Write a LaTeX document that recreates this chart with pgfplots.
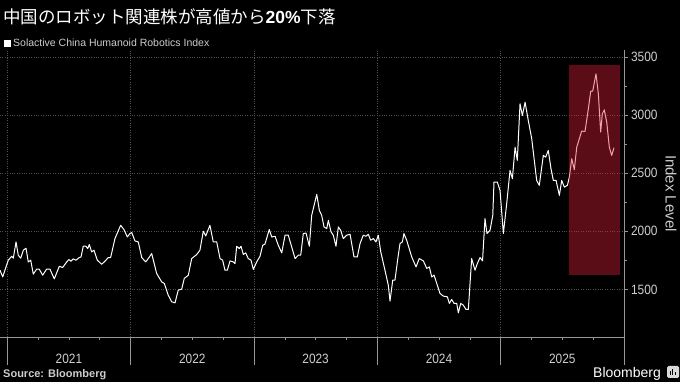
\documentclass[border=0pt]{standalone}
\usepackage{fontspec}
\setmainfont{Liberation Sans}
\newfontfamily\cjk{Noto Sans CJK JP}
\usepackage{pgfplots}
\pgfplotsset{compat=1.18}
\definecolor{axisgray}{RGB}{150,150,150}
\definecolor{gridgray}{RGB}{80,80,80}
\definecolor{lblgray}{RGB}{205,205,205}
\definecolor{hlred}{RGB}{219,31,57}

\pgfplotstableread{
x y
2020.941 1665
2020.963 1607
2021.008 1751
2021.036 1785
2021.049 1768
2021.071 1908
2021.089 1794
2021.109 1768
2021.130 1837
2021.152 1854
2021.170 1736
2021.190 1751
2021.211 1631
2021.238 1674
2021.259 1674
2021.287 1622
2021.319 1674
2021.346 1674
2021.381 1590
2021.422 1699
2021.449 1688
2021.482 1736
2021.500 1757
2021.516 1742
2021.535 1762
2021.557 1751
2021.584 1774
2021.598 1779
2021.616 1871
2021.638 1871
2021.652 1851
2021.665 1886
2021.684 1822
2021.703 1837
2021.730 1751
2021.765 1716
2021.792 1742
2021.819 1774
2021.838 1774
2021.873 1937
2021.919 2051
2021.946 2015
2021.973 1951
2021.995 1980
2022.009 1989
2022.035 1917
2022.062 1908
2022.090 1774
2022.122 1736
2022.149 1774
2022.171 1808
2022.211 1637
2022.252 1564
2022.273 1551
2022.305 1450
2022.333 1393
2022.360 1384
2022.386 1493
2022.414 1502
2022.435 1594
2022.468 1622
2022.495 1765
2022.536 1800
2022.562 1837
2022.589 2000
2022.609 1960
2022.643 2051
2022.670 1908
2022.698 1908
2022.725 1765
2022.746 1751
2022.765 1665
2022.784 1665
2022.806 1745
2022.832 1736
2022.846 1722
2022.860 1871
2022.881 1851
2022.895 1871
2022.914 1800
2022.933 1814
2022.954 1765
2022.976 1751
2022.995 1671
2023.022 1736
2023.049 1785
2023.071 1880
2023.089 1889
2023.124 2015
2023.144 1951
2023.171 1957
2023.197 1880
2023.225 1814
2023.252 1966
2023.278 1966
2023.306 1865
2023.333 1765
2023.359 1794
2023.379 1794
2023.400 1980
2023.422 1985
2023.449 1871
2023.468 2137
2023.509 2318
2023.530 2180
2023.549 2137
2023.568 2037
2023.590 2023
2023.603 2094
2023.625 1994
2023.643 1966
2023.665 1871
2023.684 2037
2023.703 2009
2023.724 1937
2023.752 1966
2023.779 1974
2023.811 1779
2023.838 1779
2023.860 1894
2023.886 1966
2023.908 1957
2023.927 1974
2023.946 1923
2023.968 1937
2023.989 1908
2024.008 1966
2024.028 1822
2024.062 1665
2024.089 1536
2024.103 1399
2024.125 1579
2024.143 1579
2024.170 1794
2024.184 1894
2024.203 1908
2024.216 1980
2024.238 1923
2024.279 1779
2024.314 1693
2024.340 1765
2024.373 1745
2024.401 1680
2024.422 1693
2024.441 1607
2024.460 1622
2024.482 1551
2024.508 1465
2024.535 1442
2024.568 1436
2024.584 1379
2024.603 1413
2024.622 1379
2024.644 1379
2024.657 1298
2024.676 1379
2024.697 1364
2024.719 1327
2024.738 1327
2024.765 1765
2024.792 1665
2024.811 1722
2024.833 1774
2024.853 1745
2024.873 2109
2024.889 1980
2024.914 2009
2024.936 2137
2024.946 2423
2024.973 2423
2024.995 2352
2025.022 1980
2025.049 2238
2025.076 2524
2025.095 2453
2025.117 2724
2025.135 2610
2025.157 3097
2025.176 2996
2025.198 3111
2025.224 2953
2025.252 2796
2025.292 2438
2025.313 2395
2025.346 2653
2025.365 2638
2025.386 2696
2025.408 2539
2025.427 2438
2025.449 2438
2025.476 2309
2025.495 2438
2025.516 2380
2025.541 2395
2025.557 2466
2025.576 2624
2025.597 2530
2025.617 2724
2025.657 2862
2025.684 2859
2025.711 3054
2025.730 3205
2025.746 3205
2025.773 3355
2025.792 3183
2025.811 2853
2025.824 3011
2025.840 3045
2025.860 2939
2025.881 2724
2025.900 2653
2025.919 2719
}\idx

\begin{document}
\begin{tikzpicture}
\path[use as bounding box, fill=black] (0pt,-45pt) rectangle (680pt,337pt);
\begin{axis}[
  at={(0pt,0pt)}, anchor=south west,
  scale only axis, width=624pt, height=287pt,
  xmin=2020.941, xmax=2026, ymin=1090, ymax=3560,
  axis x line*=bottom, axis y line*=right,
  axis line style={draw=axisgray, line width=0.6pt, -},
  xtick={2021,2022,2023,2024,2025,2026}, xticklabels={},
  minor x tick num=3,
  ytick={1500,2000,2500,3000,3500}, minor y tick num=1,
  tick align=outside, major tick length=4pt, minor tick length=3pt,
  tick style={draw=axisgray, line width=0.6pt},
  xmajorgrids, ymajorgrids,
  grid style={draw=gridgray, line width=0.5pt, dash pattern=on 0.8pt off 1.6pt},
  yticklabel style={font=\fontsize{13.5}{14}\selectfont, text=lblgray, xscale=0.88, anchor=west},
  /pgf/number format/assume math mode=true,
  /pgf/number format/1000 sep={},
  clip=false,
]
\addplot[white, line width=1.0pt, line join=round] table[x=x, y=y] {\idx};
\fill[hlred, fill opacity=0.42] (axis cs:2025.557,1622) rectangle (axis cs:2025.968,3434);
\pgfplotsinvokeforeach{2021,2022,2023,2024,2025,2026}{
  \draw[axisgray, line width=0.6pt] (axis cs:#1,1090) -- ++(0pt,-28pt);
}
\pgfplotsinvokeforeach{2021,2022,2023,2024,2025}{
  \node[anchor=base, inner sep=0pt, yshift=-27pt, text=lblgray, font=\fontsize{13.5}{14}\selectfont, xscale=0.88] at (axis cs:#1.5,1090) {#1};
}
\end{axis}
% title and texts
\node[anchor=base west, inner sep=0pt, text=white] at (3pt,313.5pt)
  {\cjk\fontsize{17.5}{20}\selectfont 中国のロボット関連株が高値から{\setmainfont{Liberation Sans}\bfseries 20\%}下落};
\fill[white] (4pt,290pt) rectangle (10.5pt,296.5pt);
\node[anchor=base west, inner sep=0pt, text=lblgray, font=\fontsize{10.5}{12}\selectfont] at (13pt,290pt) {Solactive China Humanoid Robotics Index};
\node[rotate=-90, inner sep=0pt, text=lblgray, font=\fontsize{15}{16}\selectfont] at (671pt,143.5pt) {Index Level};
\node[anchor=base west, inner sep=0pt, text=lblgray, font=\fontsize{11}{12}\selectfont\bfseries] at (3pt,-41pt) {Source: Bloomberg};
\node[anchor=base west, inner sep=0pt, text=white, font=\fontsize{14}{15}\selectfont] at (593pt,-40.7pt) {Bloomberg};
\fill[white!85!black, rounded corners=1.5pt] (667pt,-41pt) rectangle (679pt,-29pt);
\fill[black] (669.5pt,-38.5pt) rectangle (670.8pt,-34pt);
\fill[black] (672pt,-38.5pt) rectangle (673.3pt,-32pt);
\fill[black] (674.5pt,-38.5pt) rectangle (675.8pt,-35pt);
\end{tikzpicture}
\end{document}
